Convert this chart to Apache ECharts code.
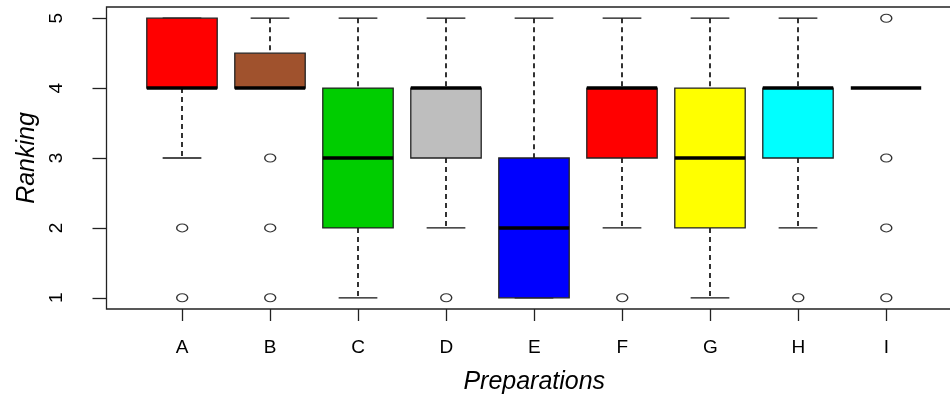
<!DOCTYPE html>
<html>
<head>
<meta charset="utf-8">
<script src="https://cdn.jsdelivr.net/npm/echarts@6/dist/echarts.min.js"></script>
<style>
html,body{margin:0;padding:0;background:#fff;}
#chart{width:950px;height:397px;}
</style>
</head>
<body>
<div id="chart"></div>
<script>
// ---- data ----
var categories = ['A', 'B', 'C', 'D', 'E', 'F', 'G', 'H', 'I'];
var lowWhisker  = [3, 4,   1, 2, 1, 2, 1, 2, 4];
var q1          = [4, 4,   2, 3, 1, 3, 2, 3, 4];
var median      = [4, 4,   3, 4, 2, 4, 3, 4, 4];
var q3          = [5, 4.5, 4, 4, 3, 4, 4, 4, 4];
var highWhisker = [5, 5,   5, 5, 5, 5, 5, 5, 4];
var outlierCat   = [1, 1, 2, 2, 2, 4, 6, 8, 9, 9, 9, 9];
var outlierValue = [2, 1, 3, 2, 1, 1, 1, 1, 5, 3, 2, 1];
var boxColors = ['#FF0000', '#A0522D', '#00CD00', '#BEBEBE', '#0000FF', '#FF0000', '#FFFF00', '#00FFFF', '#FFFFFF'];
var yTicks = [1, 2, 3, 4, 5];
var xTicks = [1, 2, 3, 4, 5, 6, 7, 8, 9];

var boxData = categories.map(function (c, i) {
  return [i + 1, lowWhisker[i], q1[i], median[i], q3[i], highWhisker[i]];
});
var outlierData = outlierCat.map(function (c, i) { return [c, outlierValue[i]]; });

var chart = echarts.init(document.getElementById('chart'));
var fontFam = '"Liberation Sans", Arial, sans-serif';
var axisColor = '#222';

function renderBox(params, api) {
  var x = api.value(0), lo = api.value(1), a = api.value(2), md = api.value(3), b = api.value(4), hi = api.value(5);
  var pLo = api.coord([x, lo]), pQ1 = api.coord([x, a]), pMd = api.coord([x, md]), pQ3 = api.coord([x, b]), pHi = api.coord([x, hi]);
  var half = api.size([0.4, 0])[0];
  var capHalf = api.size([0.22, 0])[0];
  var cx = Math.round(pMd[0]);
  var dashStyle = { stroke: '#000', lineWidth: 1.6, lineDash: [5, 4] };
  var solid = { stroke: '#111', lineWidth: 1.3 };
  var children = [];
  if (pHi[1] < pQ3[1]) {
    children.push({ type: 'line', shape: { x1: cx, y1: pHi[1], x2: cx, y2: pQ3[1] }, style: dashStyle });
  }
  if (pLo[1] > pQ1[1]) {
    children.push({ type: 'line', shape: { x1: cx, y1: pQ1[1], x2: cx, y2: pLo[1] }, style: dashStyle });
  }
  children.push({ type: 'line', shape: { x1: cx - capHalf, y1: pHi[1], x2: cx + capHalf, y2: pHi[1] }, style: solid });
  children.push({ type: 'line', shape: { x1: cx - capHalf, y1: pLo[1], x2: cx + capHalf, y2: pLo[1] }, style: solid });
  if (pQ1[1] > pQ3[1]) {
    children.push({ type: 'rect', shape: { x: cx - half, y: pQ3[1], width: 2 * half, height: pQ1[1] - pQ3[1] },
      style: { fill: boxColors[params.dataIndex], stroke: '#222', lineWidth: 1.3 } });
  }
  children.push({ type: 'line', shape: { x1: cx - half, y1: pMd[1], x2: cx + half, y2: pMd[1] }, style: { stroke: '#000', lineWidth: 3.5 } });
  return { type: 'group', children: children };
}

var option = {
  backgroundColor: '#fff',
  animation: false,
  grid: {
    left: 106.5, right: -12, top: 7, bottom: 88,
    show: true, borderColor: axisColor, borderWidth: 1.3, backgroundColor: 'transparent',
    containLabel: false, outerBoundsMode: 'none'
  },
  xAxis: {
    type: 'value', min: 0.14, max: 9.86,
    splitLine: { show: false },
    axisLine: { show: false },
    axisTick: { show: true, length: 12, lineStyle: { color: axisColor, width: 1.3 }, customValues: xTicks },
    axisLabel: {
      customValues: xTicks, margin: 29, color: '#000', fontSize: 19, fontFamily: fontFam,
      formatter: function (v) { return categories[Math.round(v) - 1] || ''; }
    },
    name: 'Preparations', nameLocation: 'middle', nameGap: 61,
    nameTextStyle: { fontSize: 25, fontStyle: 'italic', fontFamily: fontFam, color: '#000' }
  },
  yAxis: {
    type: 'value', min: 0.84, max: 5.16,
    splitLine: { show: false },
    axisLine: { show: false },
    axisTick: { show: true, length: 14, lineStyle: { color: axisColor, width: 1.3 }, customValues: yTicks },
    axisLabel: {
      customValues: yTicks, rotate: 90, margin: 40, color: '#000', fontSize: 19, fontFamily: fontFam,
      formatter: function (v) { return String(v); }
    },
    name: 'Ranking', nameLocation: 'middle', nameGap: 67, nameRotate: 90,
    nameTextStyle: { fontSize: 25, fontStyle: 'italic', fontFamily: fontFam, color: '#000' }
  },
  series: [
    {
      type: 'custom',
      renderItem: renderBox,
      encode: { x: 0, y: [1, 2, 3, 4, 5] },
      data: boxData,
      z: 2
    },
    {
      type: 'scatter',
      data: outlierData,
      symbol: 'circle',
      symbolSize: [11, 8],
      itemStyle: { color: 'rgba(255,255,255,0)', borderColor: '#000', borderWidth: 1.2 },
      z: 3
    }
  ]
};
chart.setOption(option);
</script>
</body>
</html>
